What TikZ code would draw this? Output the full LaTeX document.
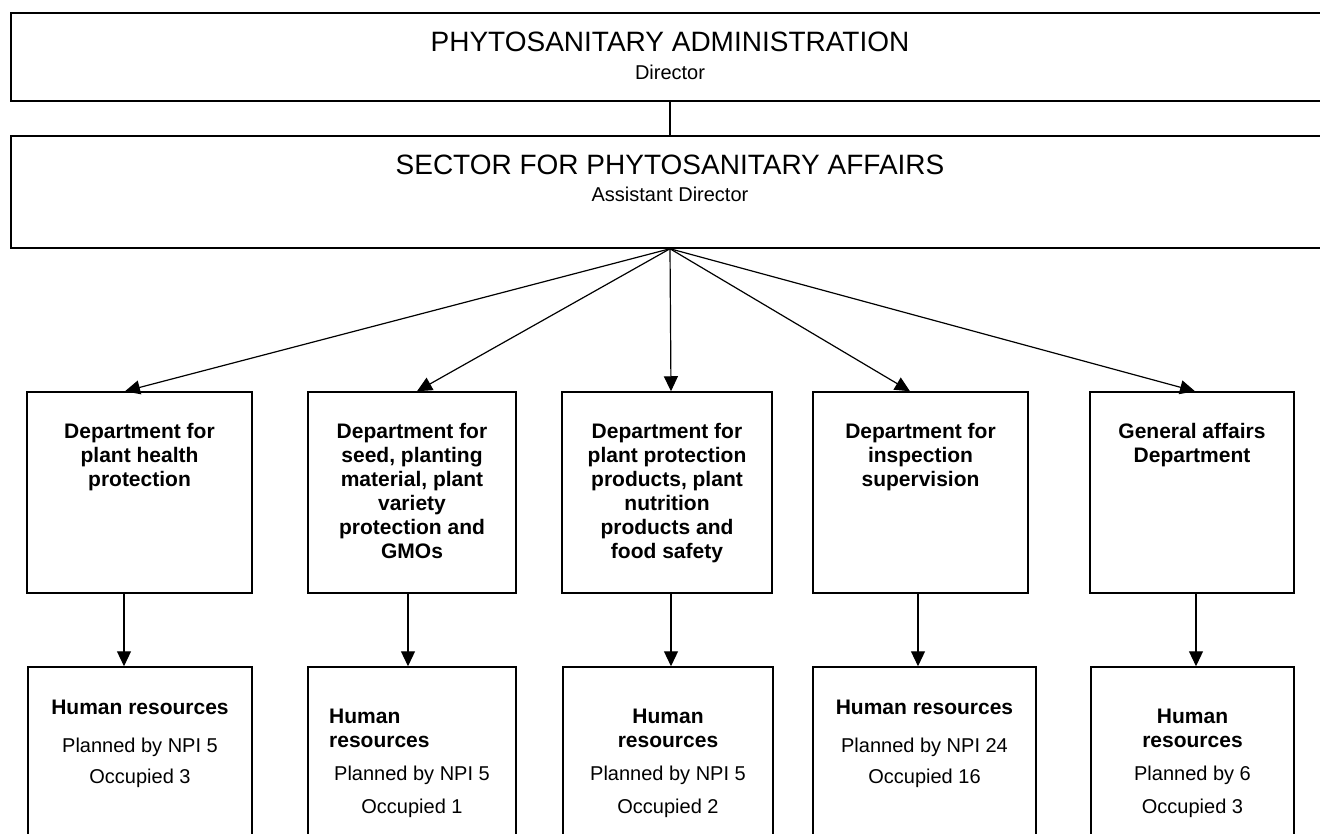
\documentclass[tikz,border=0pt]{standalone}
\usepackage{fontspec}
\setmainfont{Liberation Sans}
\usetikzlibrary{arrows.meta}

\begin{document}
\begin{tikzpicture}[x=1pt,y=-1pt,
  frame/.style={draw, line width=1.5pt, rectangle, inner sep=0pt},
  big/.style={font=\fontsize{28}{32}\selectfont, inner sep=0pt},
  small/.style={font=\fontsize{20}{24}\selectfont, inner sep=0pt},
  boldtext/.style={font=\fontsize{21}{24}\selectfont\bfseries, inner sep=0pt, align=center},
  link/.style={line width=1.3pt},
  feed/.style={line width=1.2pt, -{Triangle[length=15pt,width=14pt]}}]

\useasboundingbox (0,0) rectangle (1320,834);
\clip (0,0) rectangle (1320,834);

% head of the administration
\node[frame, minimum width=1318pt, minimum height=88pt] (admin) at (670,57) {};
\node[big, anchor=base] (admintitle) at (670,52) {PHYTOSANITARY ADMINISTRATION};
\node[small, anchor=base] (adminrole) at (670,80) {Director};

% sector
\node[frame, minimum width=1318pt, minimum height=112pt] (sector) at (670,192) {};
\node[big, anchor=base] (sectortitle) at (670,175) {SECTOR FOR PHYTOSANITARY AFFAIRS};
\node[small, anchor=base] (sectorrole) at (670,202) {Assistant Director};

\draw[link] (admin.south) -- (sector.north);

% departments
\node[frame, minimum width=225pt, minimum height=201pt] (d1) at (139.5,492.5) {};
\node[frame, minimum width=208pt, minimum height=201pt] (d2) at (412,492.5) {};
\node[frame, minimum width=210pt, minimum height=201pt] (d3) at (667,492.5) {};
\node[frame, minimum width=215pt, minimum height=201pt] (d4) at (920.5,492.5) {};
\node[frame, minimum width=204pt, minimum height=201pt] (d5) at (1192,492.5) {};

\node[boldtext, anchor=north] (d1t) at (139.5,423) {Department for\\plant health\\protection};
\node[boldtext, anchor=north] (d2t) at (412,423) {Department for\\seed, planting\\material, plant\\variety\\protection and\\GMOs};
\node[boldtext, anchor=north] (d3t) at (667,423) {Department for\\plant protection\\products, plant\\nutrition\\products and\\food safety};
\node[boldtext, anchor=north] (d4t) at (920.5,423) {Department for\\inspection\\supervision};
\node[boldtext, anchor=north] (d5t) at (1192,423) {General affairs\\Department};

% human resources (boxes run past the lower edge)
\node[frame, minimum width=224pt, minimum height=233pt] (h1) at (140,783.5) {};
\node[frame, minimum width=208pt, minimum height=233pt] (h2) at (412,783.5) {};
\node[frame, minimum width=210pt, minimum height=233pt] (h3) at (668,783.5) {};
\node[frame, minimum width=223pt, minimum height=233pt] (h4) at (924.5,783.5) {};
\node[frame, minimum width=203pt, minimum height=233pt] (h5) at (1192.5,783.5) {};

\node[boldtext, anchor=base] (h1a) at (140,714) {Human resources};
\node[small, anchor=base] (h1b) at (140,752) {Planned by NPI 5};
\node[small, anchor=base] (h1c) at (140,783) {Occupied 3};

\node[boldtext, align=left, anchor=north west] (h2a) at (329,709) {Human\\resources};
\node[small, anchor=base] (h2b) at (412,780) {Planned by NPI 5};
\node[small, anchor=base] (h2c) at (412,813) {Occupied 1};

\node[boldtext, anchor=north] (h3a) at (668,709) {Human\\resources};
\node[small, anchor=base] (h3b) at (668,780) {Planned by NPI 5};
\node[small, anchor=base] (h3c) at (668,813) {Occupied 2};

\node[boldtext, anchor=base] (h4a) at (924.5,714) {Human resources};
\node[small, anchor=base] (h4b) at (924.5,752) {Planned by NPI 24};
\node[small, anchor=base] (h4c) at (924.5,783) {Occupied 16};

\node[boldtext, anchor=north] (h5a) at (1192.5,709) {Human\\resources};
\node[small, anchor=base] (h5b) at (1192.5,780) {Planned by 6};
\node[small, anchor=base] (h5c) at (1192.5,813) {Occupied 3};

% sector to departments
\draw[feed] (sector.south) -- ([xshift=-14.5pt]d1.north);
\draw[feed] (sector.south) -- ([xshift=5pt]d2.north);
\draw[feed] (sector.south) -- ([xshift=4pt]d3.north);
\draw[feed] (sector.south) -- ([xshift=-10.5pt]d4.north);
\draw[feed] (sector.south) -- ([xshift=3pt]d5.north);

% departments to their staffing
\draw[feed] ([xshift=-15.5pt]d1.south) -- ([xshift=-15.5pt]d1.south |- h1.north);
\draw[feed] ([xshift=-4pt]d2.south) -- ([xshift=-4pt]d2.south |- h2.north);
\draw[feed] ([xshift=4pt]d3.south) -- ([xshift=4pt]d3.south |- h3.north);
\draw[feed] ([xshift=-2.5pt]d4.south) -- ([xshift=-2.5pt]d4.south |- h4.north);
\draw[feed] ([xshift=4pt]d5.south) -- ([xshift=4pt]d5.south |- h5.north);
\end{tikzpicture}
\end{document}
